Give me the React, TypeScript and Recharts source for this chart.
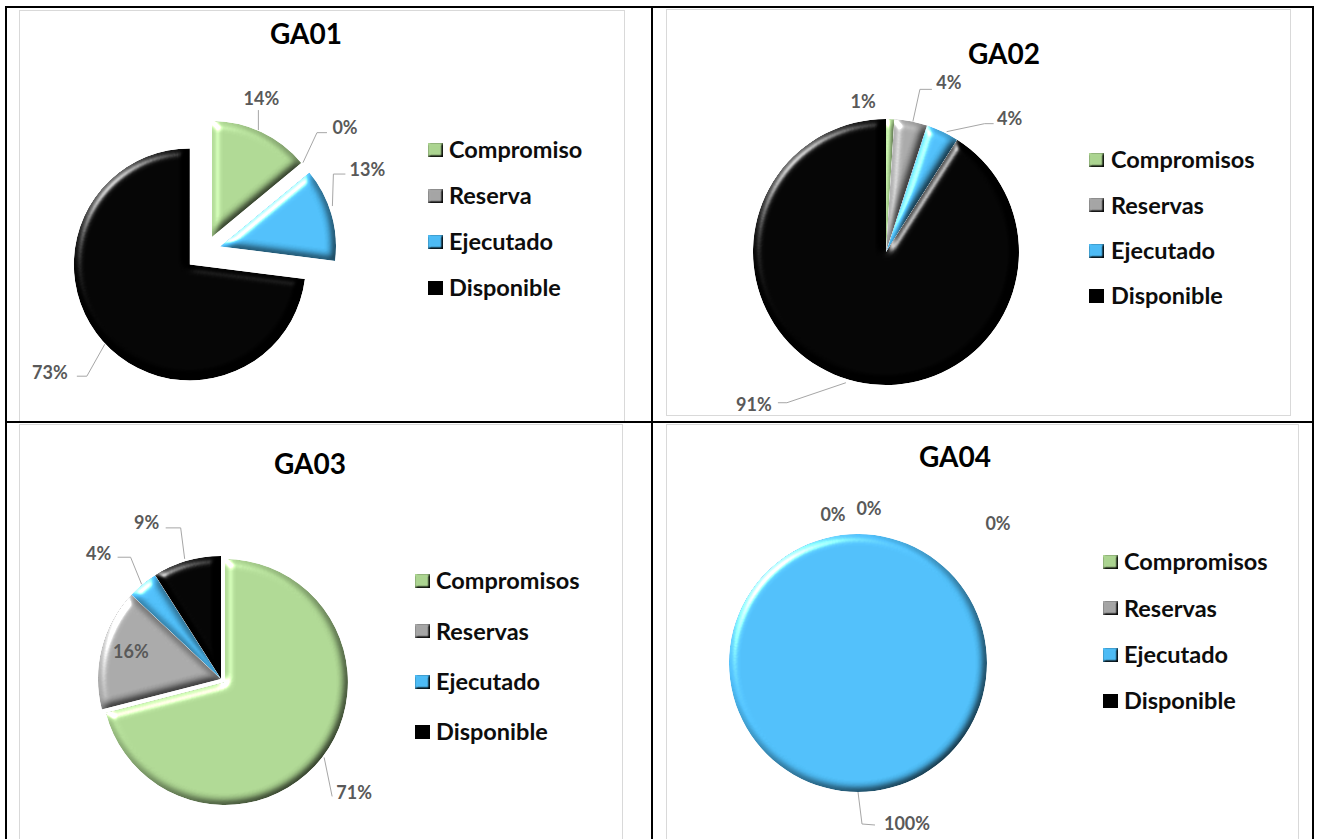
import React from 'react';
import { PieChart, Pie, Cell, Legend } from 'recharts';

// ---- data (percent of budget) ----
const titles = ['GA01', 'GA02', 'GA03', 'GA04'];
const namesGA01 = ['Compromiso', 'Reserva', 'Ejecutado', 'Disponible'];
const namesOther = ['Compromisos', 'Reservas', 'Ejecutado', 'Disponible'];
const ga01Values = [14, 0, 13, 73];
const ga02Values = [1, 4, 4, 91];
const ga03Values = [71, 16, 4, 9];
const ga04Values = [0, 0, 100, 0];
const colors = ['#acd591', '#a6a6a6', '#4dbcf6', '#000000'];

const FONT = 'Lato, Carlito, "Open Sans", sans-serif';
const RAD = Math.PI / 180;

type Spot = { dx: number; dy: number; line?: number[][] };

type PanelCfg = {
  title: string;
  names: string[];
  values: number[];
  box: { x: number; y: number; w: number; h: number };
  frame: { x: number; y: number; w: number; h: number };
  titleAt: [number, number];
  center: [number, number];
  r: number;
  explode: number[];
  spots: Spot[];
  legend: { markX: number; textX: number; firstY: number; row: number };
};

// geometry below is in page pixels
const panels: PanelCfg[] = [
  {
    title: titles[0],
    names: namesGA01,
    values: ga01Values,
    box: { x: 8, y: 9, w: 643, h: 412 },
    frame: { x: 19, y: 10, w: 606, h: 430 },
    titleAt: [306, 34],
    center: [205.6, 250.6],
    r: 116,
    explode: [15, 0, 15, 21],
    spots: [
      { dx: 0, dy: -34, line: [[-3, -2], [-3, -22]] },
      { dx: 50, dy: -49, line: [[8, -14], [22, -44], [32, -44]] },
      { dx: 36, dy: -45, line: [[1, -8], [2, -40], [14, -40]] },
      { dx: -53, dy: 31, line: [[2, 3], [-16, 35], [-26, 35]] },
    ],
    legend: { markX: 428, textX: 449, firstY: 150, row: 46 },
  },
  {
    title: titles[1],
    names: namesOther,
    values: ga02Values,
    box: { x: 653, y: 9, w: 659, h: 412 },
    frame: { x: 666, y: 9, w: 625, h: 407 },
    titleAt: [1004, 54],
    center: [886, 252],
    r: 133,
    explode: [0, 0, 0, 0],
    spots: [
      { dx: -27, dy: -18 },
      { dx: 38, dy: -39, line: [[2, 0], [9, -32], [21, -32]] },
      { dx: 67, dy: -13, line: [[4, 0], [42, -8], [51, -8]] },
      { dx: -95, dy: 25, line: [[-3, 3], [-62, 23], [-71, 23]] },
    ],
    legend: { markX: 1089, textX: 1111, firstY: 160, row: 45.3 },
  },
  {
    title: titles[2],
    names: namesOther,
    values: ga03Values,
    box: { x: 8, y: 423, w: 643, h: 416 },
    frame: { x: 19, y: 424, w: 604, h: 430 },
    titleAt: [310, 464],
    center: [221, 679],
    r: 123,
    explode: [5, 0, 0, 0],
    spots: [
      { dx: 32, dy: 35, line: [[2, 0], [10, 39]] },
      { dx: 29, dy: 3 },
      { dx: -44, dy: -31, line: [[-1, 0], [-12, -27], [-25, -27]] },
      { dx: -40, dy: -38, line: [[-2, -2], [-6, -33], [-21, -33]] },
    ],
    legend: { markX: 415, textX: 436, firstY: 581, row: 50.3 },
  },
  {
    title: titles[3],
    names: namesOther,
    values: ga04Values,
    box: { x: 653, y: 423, w: 659, h: 416 },
    frame: { x: 666, y: 424, w: 633, h: 430 },
    titleAt: [955, 457],
    center: [858, 663],
    r: 129,
    explode: [0, 0, 0, 0],
    spots: [
      { dx: -25, dy: -19 },
      { dx: 11, dy: -25 },
      { dx: 49, dy: 32, line: [[0, 0], [4, 32], [17, 33]] },
      { dx: 140, dy: -10 },
    ],
    legend: { markX: 1103, textX: 1124, firstY: 562, row: 46.3 },
  },
];

function renderSpot(p: any, spot: Spot) {
  const ax = p.cx + p.outerRadius * Math.cos(-p.midAngle * RAD);
  const ay = p.cy + p.outerRadius * Math.sin(-p.midAngle * RAD);
  const pts = spot.line ? spot.line.map(([x, y]) => `${ax + x},${ay + y}`).join(' ') : null;
  return (
    <g>
      {pts && <polyline points={pts} fill="none" stroke="#a6a6a6" strokeWidth={1} />}
      <text
        x={ax + spot.dx}
        y={ay + spot.dy}
        dy="0.36em"
        textAnchor="middle"
        fill="#595959"
        fontFamily={FONT}
        fontWeight={700}
        fontSize={18}
      >
        {`${Math.round(p.percent * 100)}%`}
      </text>
    </g>
  );
}

function LegendBox({ payload, cfg }: { payload?: any[]; cfg: PanelCfg }) {
  const { legend, names } = cfg;
  // the chart draws one Pie per slice, so the payload repeats: keep each name once
  const seen = new Set<string>();
  const items = (payload || []).filter((it) => {
    const v = String(it.value);
    if (seen.has(v) || !names.includes(v)) return false;
    seen.add(v);
    return true;
  });
  items.sort((a, b) => names.indexOf(String(a.value)) - names.indexOf(String(b.value)));
  return (
    <div>
      {items.map((item) => {
        const i = names.indexOf(String(item.value));
        return (
          <div
            key={i}
            style={{ height: legend.row, display: 'flex', alignItems: 'center', position: 'relative' }}
          >
            <svg width={15} height={14} style={{ display: 'block' }}>
              <rect x={0} y={0} width={15} height={14} fill={colors[i]} filter="url(#bevelSmall)" />
            </svg>
            <span
              style={{
                position: 'absolute',
                left: legend.textX - legend.markX,
                fontFamily: FONT,
                fontWeight: 700,
                fontSize: 23.5,
                color: '#0d0d0d',
                whiteSpace: 'nowrap',
                lineHeight: 1,
              }}
            >
              {item.value}
            </span>
          </div>
        );
      })}
    </div>
  );
}

function Panel({ cfg }: { cfg: PanelCfg }) {
  const { box, values, names, explode, spots } = cfg;
  const data = names.map((name, i) => ({ name, value: values[i] }));
  const total = values.reduce((a, b) => a + b, 0);
  const cum: number[] = [];
  values.reduce((acc, v, i) => {
    cum[i] = acc;
    return acc + v;
  }, 0);
  const cx = cfg.center[0] - box.x;
  const cy = cfg.center[1] - box.y;
  return (
    <>
      <div
        style={{
          position: 'absolute',
          left: cfg.frame.x,
          top: cfg.frame.y,
          width: cfg.frame.w,
          height: Math.min(cfg.frame.h, box.y + box.h - cfg.frame.y),
          border: '1px solid #d9d9d9',
          borderBottom: cfg.frame.y + cfg.frame.h > box.y + box.h ? 'none' : '1px solid #d9d9d9',
          boxSizing: 'border-box',
        }}
      />
      <div
        style={{
          position: 'absolute',
          left: cfg.titleAt[0] - 100,
          width: 200,
          top: cfg.titleAt[1] - 0.53 * 28,
          textAlign: 'center',
          fontFamily: FONT,
          fontWeight: 700,
          fontSize: 28,
          lineHeight: 1,
          color: '#000',
        }}
      >
        {cfg.title}
      </div>
      <div style={{ position: 'absolute', left: box.x, top: box.y, width: box.w, height: box.h, overflow: 'hidden' }}>
        <PieChart width={box.w} height={box.h} margin={{ top: 0, right: 0, bottom: 0, left: 0 }}>
          {values.map((v, k) => {
            const mid = 90 - (360 * (cum[k] + v / 2)) / total;
            const ox = explode[k] * Math.cos(mid * RAD);
            const oy = -explode[k] * Math.sin(mid * RAD);
            return (
              <Pie
                key={k}
                data={data}
                dataKey="value"
                nameKey="name"
                cx={cx + ox}
                cy={cy + oy}
                outerRadius={cfg.r}
                startAngle={90}
                endAngle={-270}
                stroke="none"
                legendType={k === 0 ? 'square' : 'none'}
                labelLine={false}
                label={(p: any) => (p.index === k ? renderSpot(p, spots[k]) : null)}
                isAnimationActive={false}
              >
                {data.map((d, i) => (
                  <Cell
                    key={d.name}
                    fill={i === k ? colors[i] : 'none'}
                    stroke="none"
                    filter={i === k ? 'url(#bevel)' : undefined}
                  />
                ))}
              </Pie>
            );
          })}
          <Legend
            layout="vertical"
            align="right"
            verticalAlign="top"
            wrapperStyle={{
              left: cfg.legend.markX - box.x,
              top: cfg.legend.firstY - cfg.legend.row / 2 - box.y,
              width: 'auto',
              right: 'auto',
            }}
            content={(props: any) => <LegendBox payload={props.payload} cfg={cfg} />}
          />
        </PieChart>
      </div>
    </>
  );
}

export default function App() {
  return (
    <div style={{ position: 'absolute', left: 0, top: 0, width: 1319, height: 839, background: '#fff', overflow: 'hidden' }}>
      <svg width={0} height={0} style={{ position: 'absolute' }}>
        <defs>
          <filter id="bevel" x="-10%" y="-10%" width="120%" height="120%" colorInterpolationFilters="sRGB">
            <feGaussianBlur in="SourceAlpha" stdDeviation="4" result="blur" />
            <feDiffuseLighting in="blur" surfaceScale="5" diffuseConstant="1.15" lightingColor="#ffffff" result="diff">
              <feDistantLight azimuth={225} elevation={60} />
            </feDiffuseLighting>
            <feComposite in="SourceGraphic" in2="diff" operator="arithmetic" k1={1} k2={0} k3={0} k4={0} result="shaded" />
            <feSpecularLighting in="blur" surfaceScale="5" specularConstant="0.8" specularExponent="25" lightingColor="#ffffff" result="spec">
              <feDistantLight azimuth={225} elevation={30} />
            </feSpecularLighting>
            <feComposite in="spec" in2="SourceAlpha" operator="in" result="specIn" />
            <feComposite in="shaded" in2="specIn" operator="arithmetic" k1={0} k2={1} k3={1} k4={0} result="lit" />
            <feComposite in="lit" in2="SourceAlpha" operator="in" />
          </filter>
          <filter id="bevelSmall" x="-10%" y="-10%" width="120%" height="120%" colorInterpolationFilters="sRGB">
            <feGaussianBlur in="SourceAlpha" stdDeviation="1.2" result="blur" />
            <feDiffuseLighting in="blur" surfaceScale="3" diffuseConstant="1.15" lightingColor="#ffffff" result="diff">
              <feDistantLight azimuth={225} elevation={60} />
            </feDiffuseLighting>
            <feComposite in="SourceGraphic" in2="diff" operator="arithmetic" k1={1} k2={0} k3={0} k4={0} result="shaded" />
            <feComposite in="shaded" in2="SourceAlpha" operator="in" />
          </filter>
        </defs>
      </svg>
      {/* table grid */}
      <div style={{ position: 'absolute', left: 5, top: 6, width: 1309, height: 840, border: '2px solid #000', boxSizing: 'border-box' }} />
      <div style={{ position: 'absolute', left: 651, top: 6, width: 2, height: 840, background: '#000' }} />
      <div style={{ position: 'absolute', left: 5, top: 421, width: 1309, height: 2, background: '#000' }} />
      {panels.map((p) => (
        <Panel key={p.title} cfg={p} />
      ))}
    </div>
  );
}
